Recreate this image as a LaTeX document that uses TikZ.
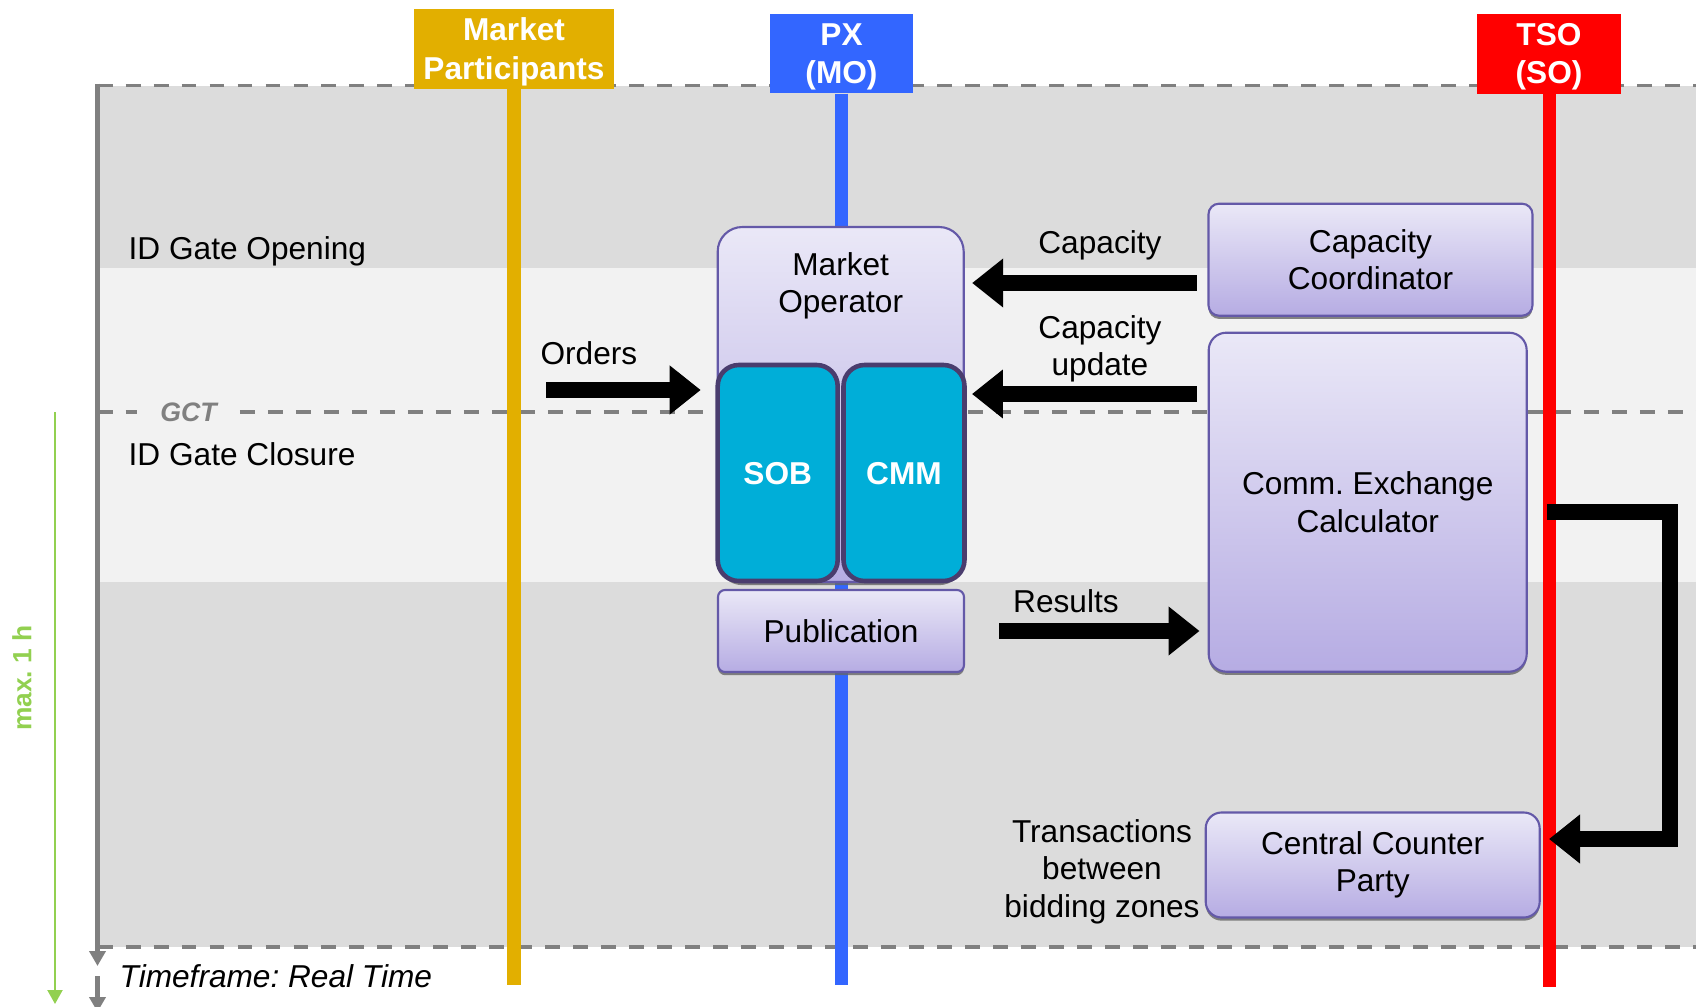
\documentclass[tikz,border=0pt]{standalone}
\usepackage{fontspec}
\setmainfont{Liberation Sans}
\usepackage{xcolor}
\usepackage{tikz}
\usetikzlibrary{arrows.meta,shadows}

\definecolor{banddark}{HTML}{DCDCDC}
\definecolor{bandlight}{HTML}{F2F2F2}
\definecolor{framegray}{HTML}{808080}
\definecolor{mpgold}{HTML}{E2AF00}
\definecolor{pxblue}{HTML}{3366FF}
\definecolor{tsored}{HTML}{FF0000}
\definecolor{boxtop}{HTML}{EAE8F7}
\definecolor{boxbottom}{HTML}{B6ACE3}
\definecolor{boxline}{HTML}{6459A8}
\definecolor{bookcyan}{HTML}{00AED8}
\definecolor{bookline}{HTML}{4A3D6E}
\definecolor{hourgreen}{HTML}{92D050}

\newcommand{\figfont}{\fontsize{9pt}{10.7pt}\selectfont}

\tikzstyle{txt} = [font=\figfont, align=center, inner sep=0pt]
\tikzstyle{actor} = [font=\fontsize{9pt}{11pt}\selectfont\bfseries, text=white, align=center, inner sep=0pt, text depth=-2.2pt, minimum height=0.8cm]
\tikzstyle{lifeline} = [line width=3.7pt]
\tikzstyle{dashline} = [framegray, line width=1pt, dash pattern=on 0.15cm off 0.13cm]
\tikzstyle{role} = [rectangle, draw=boxline, line width=0.6pt, top color=boxtop, bottom color=boxbottom, font=\figfont, align=center, drop shadow={shadow xshift=0pt, shadow yshift=-0.9pt, fill=black!60, opacity=0.8}]
\tikzstyle{book} = [rectangle, rounded corners=6pt, draw=bookline, line width=1.3pt, fill=bookcyan, font=\figfont\bfseries, text=white, text depth=-2pt]
\tikzstyle{flow} = [line width=4.5pt, -{Triangle[length=0.31cm, width=0.47cm]}]

\begin{document}
\begin{tikzpicture}
\useasboundingbox (0,0) rectangle (16.96,-10.07);

\fill[banddark] (0.975,-0.855) rectangle (16.96,-2.68);
\fill[bandlight] (0.975,-2.68) rectangle (16.96,-5.82);
\fill[banddark] (0.975,-5.82) rectangle (16.96,-9.47);

\node[txt, font=\fontsize{7.6pt}{9pt}\selectfont\bfseries\itshape, text=framegray, inner xsep=0.225cm] (gct) at (1.885,-4.12) {GCT};
\draw[dashline] (0.975,-0.855) -- (16.96,-0.855);
\draw[dashline] (0.975,-4.12) -- (gct.west);
\draw[dashline] (gct.east) -- (16.96,-4.12);
\draw[dashline] (0.975,-9.47) -- (16.96,-9.47);
\draw[framegray, line width=1.15pt, -{Triangle[length=0.15cm, width=0.16cm]}] (0.975,-0.835) -- (0.975,-9.66);
\draw[framegray, line width=1.15pt, -{Triangle[length=0.15cm, width=0.16cm]}] (0.975,-9.76) -- (0.975,-10.12);

\draw[hourgreen, line width=0.6pt, -{Triangle[length=0.14cm, width=0.15cm]}] (0.55,-4.12) -- (0.55,-10.04);
\node[txt, font=\fontsize{7.5pt}{9pt}\selectfont\bfseries, text=hourgreen, rotate=90] (maxh) at (0.22,-6.78) {max.\ 1 h};

\node[txt, anchor=west] (idgo) at (1.28,-2.51) {ID Gate Opening};
\node[txt, anchor=west] (idgc) at (1.28,-4.54) {ID Gate Closure};
\node[txt, anchor=west, font=\figfont\itshape] (tframe) at (1.19,-9.76) {Timeframe:\ Real Time};

\node[actor, fill=mpgold, minimum width=2.0cm] (mp) at (5.14,-0.487) {Market\\Participants};
\node[actor, fill=pxblue, minimum width=1.43cm, minimum height=0.79cm] (px) at (8.415,-0.535) {PX\\(MO)};
\node[actor, fill=tsored, minimum width=1.44cm] (tso) at (15.49,-0.535) {TSO\\(SO)};
\draw[lifeline, mpgold] (mp.south) -- ++(0,-8.953);
\draw[lifeline, pxblue] (px.south) -- ++(0,-8.91);
\draw[lifeline, tsored] (tso.south) -- ++(0,-8.925);

\node[role, rounded corners=7pt, minimum width=2.46cm, minimum height=3.55cm] (mo) at (8.407,-4.045) {};
\node[txt] (mo-txt) at (8.407,-2.86) {Market\\Operator};
\node[book, minimum width=1.20cm, minimum height=2.16cm] (sob) at (7.777,-4.73) {SOB};
\node[book, minimum width=1.21cm, minimum height=2.16cm] (cmm) at (9.04,-4.73) {CMM};
\node[role, rounded corners=2pt, minimum width=2.46cm, minimum height=0.82cm] (pub) at (8.41,-6.31) {Publication};
\node[role, rounded corners=3pt, minimum width=3.24cm, minimum height=1.12cm] (capco) at (13.705,-2.597) {Capacity\\Coordinator};
\node[role, rounded corners=5pt, minimum width=3.18cm, minimum height=3.39cm] (cec) at (13.677,-5.022) {Comm.\ Exchange\\Calculator};
\node[role, rounded corners=4.5pt, minimum width=3.34cm, minimum height=1.05cm] (ccp) at (13.727,-8.65) {Central Counter\\Party};
\node[txt] (trans) at (11.02,-8.715) {Transactions\\between\\bidding zones};

\coordinate (trader) at (5.46,-3.90);
\draw[flow, shorten >=0.147cm] (trader) -- node[txt, pos=0.253, yshift=0.37cm] (orders) {Orders} (trader -| sob.west);
\draw[flow, shorten <=0.107cm, shorten >=0.074cm] (capco.west |- 0,-2.83) -- node[txt, pos=0.443, yshift=0.38cm] (cap-lbl) {Capacity} (mo.east |- 0,-2.83);
\draw[flow, shorten <=0.107cm, shorten >=0.052cm] (cec.west |- 0,-3.94) -- node[txt, pos=0.447, yshift=0.45cm] (capup-lbl) {Capacity\\update} (cmm.east |- 0,-3.94);
\draw[flow, shorten <=0.34cm, shorten >=0.081cm] (pub.east) -- node[txt, pos=0.416, yshift=0.30cm] (res-lbl) {Results} (pub.east -| cec.west);

\coordinate (tso-out) at (15.47,-5.12);
\coordinate (tso-in) at (15.49,-8.39);
\draw[flow] (tso-out) -- ++(1.23,0) |- (tso-in);
\end{tikzpicture}
\end{document}
